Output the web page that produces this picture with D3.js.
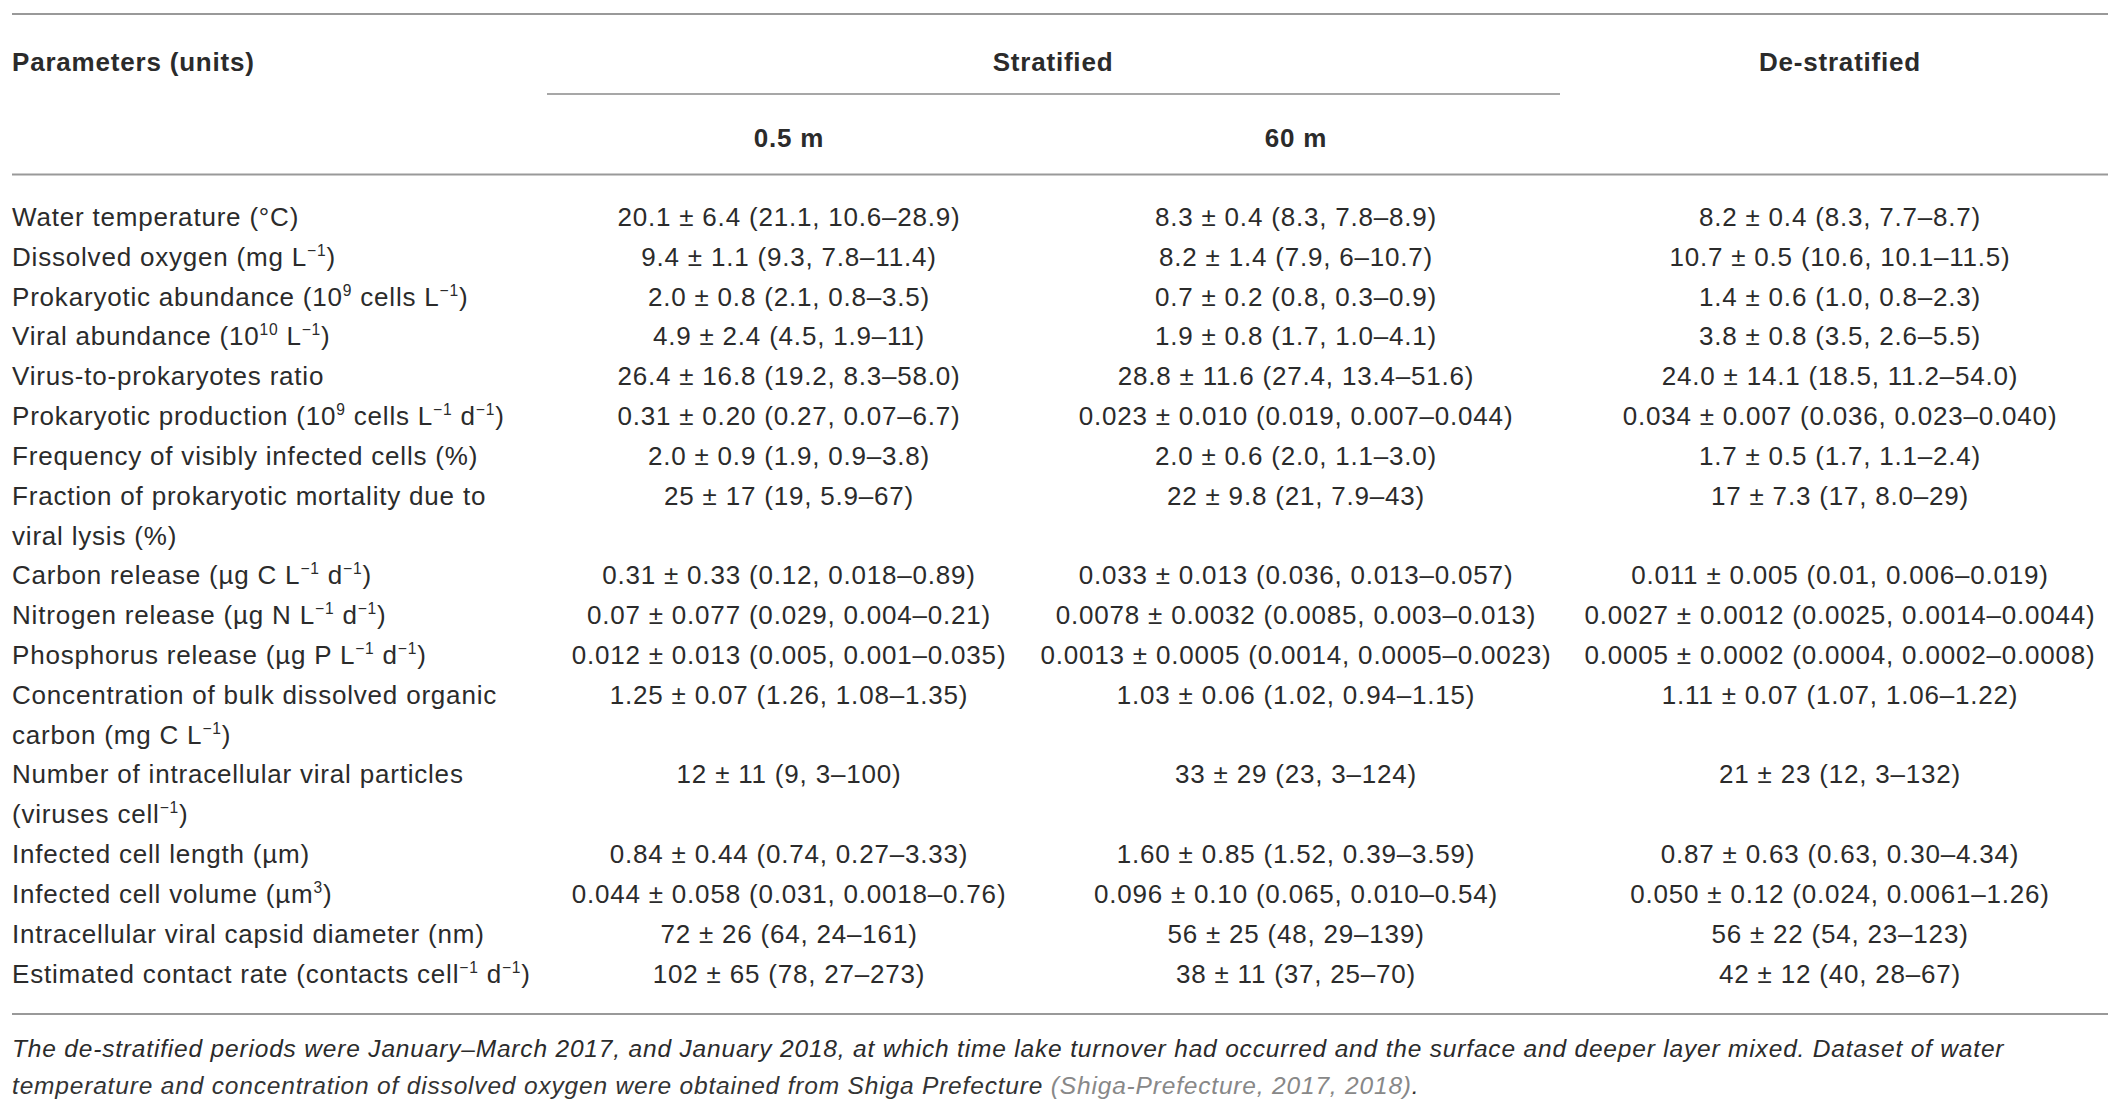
<!DOCTYPE html>
<html lang="en">
<head>
<meta charset="UTF-8" />
<title>Table</title>
<script src="https://d3js.org/d3.v7.min.js"></script>
<style>
  body { margin: 0; background: #fff; }
  svg text { font-family: "Liberation Sans", Arial, Helvetica, sans-serif; fill: #2b2b2b; }
</style>
</head>
<body>
<div class="canvas"></div>
<script>
// 행 라벨 ( | = 줄바꿈, ^{..} = 위첨자 )
const parameters = [
  "Water temperature (°C)",
  "Dissolved oxygen (mg L^{−1})",
  "Prokaryotic abundance (10^{9} cells L^{−1})",
  "Viral abundance (10^{10} L^{−1})",
  "Virus-to-prokaryotes ratio",
  "Prokaryotic production (10^{9} cells L^{−1} d^{−1})",
  "Frequency of visibly infected cells (%)",
  "Fraction of prokaryotic mortality due to|viral lysis (%)",
  "Carbon release (µg C L^{−1} d^{−1})",
  "Nitrogen release (µg N L^{−1} d^{−1})",
  "Phosphorus release (µg P L^{−1} d^{−1})",
  "Concentration of bulk dissolved organic|carbon (mg C L^{−1})",
  "Number of intracellular viral particles|(viruses cell^{−1})",
  "Infected cell length (µm)",
  "Infected cell volume (µm^{3})",
  "Intracellular viral capsid diameter (nm)",
  "Estimated contact rate (contacts cell^{−1} d^{−1})"
];

const columns = ["0.5 m", "60 m", "De-stratified"];
const groups = ["Stratified", "De-stratified"];

const surface = [
  "20.1 ± 6.4 (21.1, 10.6–28.9)",
  "9.4 ± 1.1 (9.3, 7.8–11.4)",
  "2.0 ± 0.8 (2.1, 0.8–3.5)",
  "4.9 ± 2.4 (4.5, 1.9–11)",
  "26.4 ± 16.8 (19.2, 8.3–58.0)",
  "0.31 ± 0.20 (0.27, 0.07–6.7)",
  "2.0 ± 0.9 (1.9, 0.9–3.8)",
  "25 ± 17 (19, 5.9–67)",
  "0.31 ± 0.33 (0.12, 0.018–0.89)",
  "0.07 ± 0.077 (0.029, 0.004–0.21)",
  "0.012 ± 0.013 (0.005, 0.001–0.035)",
  "1.25 ± 0.07 (1.26, 1.08–1.35)",
  "12 ± 11 (9, 3–100)",
  "0.84 ± 0.44 (0.74, 0.27–3.33)",
  "0.044 ± 0.058 (0.031, 0.0018–0.76)",
  "72 ± 26 (64, 24–161)",
  "102 ± 65 (78, 27–273)"
];

const deep = [
  "8.3 ± 0.4 (8.3, 7.8–8.9)",
  "8.2 ± 1.4 (7.9, 6–10.7)",
  "0.7 ± 0.2 (0.8, 0.3–0.9)",
  "1.9 ± 0.8 (1.7, 1.0–4.1)",
  "28.8 ± 11.6 (27.4, 13.4–51.6)",
  "0.023 ± 0.010 (0.019, 0.007–0.044)",
  "2.0 ± 0.6 (2.0, 1.1–3.0)",
  "22 ± 9.8 (21, 7.9–43)",
  "0.033 ± 0.013 (0.036, 0.013–0.057)",
  "0.0078 ± 0.0032 (0.0085, 0.003–0.013)",
  "0.0013 ± 0.0005 (0.0014, 0.0005–0.0023)",
  "1.03 ± 0.06 (1.02, 0.94–1.15)",
  "33 ± 29 (23, 3–124)",
  "1.60 ± 0.85 (1.52, 0.39–3.59)",
  "0.096 ± 0.10 (0.065, 0.010–0.54)",
  "56 ± 25 (48, 29–139)",
  "38 ± 11 (37, 25–70)"
];

const destratified = [
  "8.2 ± 0.4 (8.3, 7.7–8.7)",
  "10.7 ± 0.5 (10.6, 10.1–11.5)",
  "1.4 ± 0.6 (1.0, 0.8–2.3)",
  "3.8 ± 0.8 (3.5, 2.6–5.5)",
  "24.0 ± 14.1 (18.5, 11.2–54.0)",
  "0.034 ± 0.007 (0.036, 0.023–0.040)",
  "1.7 ± 0.5 (1.7, 1.1–2.4)",
  "17 ± 7.3 (17, 8.0–29)",
  "0.011 ± 0.005 (0.01, 0.006–0.019)",
  "0.0027 ± 0.0012 (0.0025, 0.0014–0.0044)",
  "0.0005 ± 0.0002 (0.0004, 0.0002–0.0008)",
  "1.11 ± 0.07 (1.07, 1.06–1.22)",
  "21 ± 23 (12, 3–132)",
  "0.87 ± 0.63 (0.63, 0.30–4.34)",
  "0.050 ± 0.12 (0.024, 0.0061–1.26)",
  "56 ± 22 (54, 23–123)",
  "42 ± 12 (40, 28–67)"
];

const footnote = [
  "The de-stratified periods were January–March 2017, and January 2018, at which time lake turnover had occurred and the surface and deeper layer mixed. Dataset of water",
  "temperature and concentration of dissolved oxygen were obtained from Shiga Prefecture "
];
const citation = "(Shiga-Prefecture, 2017, 2018)";

/* svg 크기 */
const 전체넓이 = 2119, 전체높이 = 1107;
const fontSize = 26;
const svg = d3.select(".canvas").append("svg")
  .attr("width", 전체넓이).attr("height", 전체높이);

const left = 12, right = 2108;

// 각 행이 몇 번째 줄에서 시작하는지
let lineIdx = 0;
const rows = parameters.map((p, i) => {
  const lines = p.split("|");
  const r = { lines, start: lineIdx, values: [surface[i], deep[i], destratified[i]] };
  lineIdx += lines.length;
  return r;
});

const y = d3.scaleLinear().domain([0, lineIdx - 1]).range([217, 973.6]);
const x = d3.scaleOrdinal().domain(columns).range([789, 1296, 1840]);
const groupX = d3.scaleOrdinal().domain(groups).range([1053, 1840]);

// 위첨자 처리
function rich(sel, str) {
  const parts = str.split(/(\^\{[^}]*\})/).filter(s => s.length);
  let up = false;
  parts.forEach(s => {
    const m = s.match(/^\^\{([^}]*)\}$/);
    if (m) {
      sel.append("tspan").attr("dy", -10).attr("font-size", fontSize * 0.6).text(m[1]);
      up = true;
    } else {
      sel.append("tspan").attr("dy", up ? 10 : 0).text(s);
      up = false;
    }
  });
  if (up) sel.append("tspan").attr("dy", 10).text("\u200b");
}

const base = 9; // 중심선 → 기준선

// 가로선
const hline = (y0, x0, x1, w, c) => svg.append("line")
  .attr("x1", x0).attr("x2", x1).attr("y1", y0).attr("y2", y0)
  .attr("stroke", c).attr("stroke-width", w);
hline(14, left, right, 2, "#999");
hline(94, 547, 1560, 1.6, "#8a8a8a");
hline(174.5, left, right, 2, "#999");
hline(1014, left, right, 2, "#999");

// 헤더
const header = svg.append("g").attr("font-weight", "bold")
  .attr("font-size", fontSize).attr("letter-spacing", 0.8);
header.append("text").attr("x", left).attr("y", 62 + base).text("Parameters (units)");
header.selectAll(".grp").data(groups).enter().append("text")
  .attr("x", d => groupX(d)).attr("y", 62 + base)
  .attr("text-anchor", "middle").text(d => d);
header.selectAll(".sub").data(columns.slice(0, 2)).enter().append("text")
  .attr("x", d => x(d)).attr("y", 138 + base)
  .attr("text-anchor", "middle").text(d => d);

// 본문
const body = svg.append("g").attr("font-size", fontSize).attr("letter-spacing", 0.8);
rows.forEach(r => {
  r.lines.forEach((ln, j) => {
    const t = body.append("text").attr("x", left).attr("y", y(r.start + j) + base);
    rich(t, ln);
  });
  r.values.forEach((v, k) => {
    body.append("text")
      .attr("x", x(columns[k])).attr("y", y(r.start) + base)
      .attr("text-anchor", "middle").text(v);
  });
});

// 각주
const foot = svg.append("g").attr("font-size", 24.5).attr("font-style", "italic")
  .attr("letter-spacing", 0.82);
foot.append("text").attr("x", left).attr("y", 1048 + base).attr("fill", "#333").text(footnote[0]);
const f2 = foot.append("text").attr("x", left).attr("y", 1085 + base);
f2.append("tspan").attr("fill", "#333").text(footnote[1]);
f2.append("tspan").attr("fill", "#888").text(citation);
f2.append("tspan").attr("fill", "#333").text(".");
</script>
</body>
</html>
